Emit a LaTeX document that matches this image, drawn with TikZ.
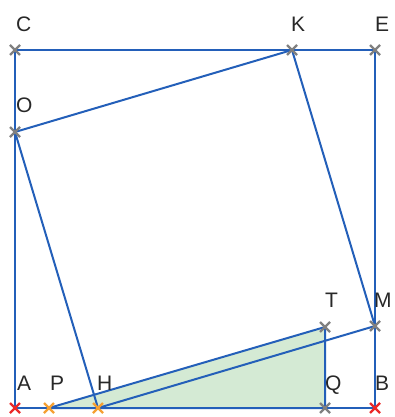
\documentclass[tikz,border=0pt]{standalone}
\usepackage{fontspec}
\setmainfont{Liberation Sans}
\begin{document}
\begin{tikzpicture}[x=1pt,y=-1pt,
  edge/.style={draw=lineblue,line width=2pt},
  lbl/.style={anchor=base west,inner sep=0pt,text=labelgrey,font=\fontsize{21}{21}\selectfont},
  xmark/.style={line width=2.4pt}]
\definecolor{lineblue}{RGB}{35,95,185}
\definecolor{fillgreen}{RGB}{212,234,212}
\definecolor{labelgrey}{RGB}{40,40,40}
\definecolor{mgrey}{RGB}{128,128,128}
\definecolor{mred}{RGB}{235,40,40}
\definecolor{morange}{RGB}{245,160,50}
\useasboundingbox (0,0) rectangle (394,417);
\coordinate (A) at (15,408);
\coordinate (P) at (49,408);
\coordinate (H) at (98,408);
\coordinate (Q) at (325,408);
\coordinate (B) at (375,408);
\coordinate (T) at (325,327);
\coordinate (M) at (375,326);
\coordinate (C) at (15,50);
\coordinate (K) at (292,50);
\coordinate (E) at (375,50);
\coordinate (O) at (15,132);
% green triangle
\fill[fillgreen] (P) -- (T) -- (Q) -- cycle;
% outer square
\draw[edge] (A) -- (B) -- (E) -- (C) -- cycle;
% tilted square
\draw[edge] (H) -- (M) -- (K) -- (O) -- cycle;
% triangle edges
\draw[edge] (P) -- (T) -- (Q) -- (P);
% markers
\foreach \p/\c in {C/mgrey,K/mgrey,E/mgrey,O/mgrey,T/mgrey,M/mgrey,Q/mgrey,A/mred,B/mred,P/morange,H/morange}{
  \draw[xmark,draw=\c] ([shift={(-5,-5)}]\p) -- ([shift={(5,5)}]\p);
  \draw[xmark,draw=\c] ([shift={(-5,5)}]\p) -- ([shift={(5,-5)}]\p);
}
% labels
\node[lbl] (lA) at (17,390) {A};
\node[lbl] (lP) at (50,390) {P};
\node[lbl] (lH) at (97,390) {H};
\node[lbl] (lQ) at (325,390) {Q};
\node[lbl] (lB) at (375,390) {B};
\node[lbl] (lT) at (325,307) {T};
\node[lbl] (lM) at (374,307) {M};
\node[lbl] (lC) at (16,32) {C};
\node[lbl] (lK) at (291,32) {K};
\node[lbl] (lE) at (375,32) {E};
\node[lbl] (lO) at (16,113) {O};
\end{tikzpicture}
\end{document}
